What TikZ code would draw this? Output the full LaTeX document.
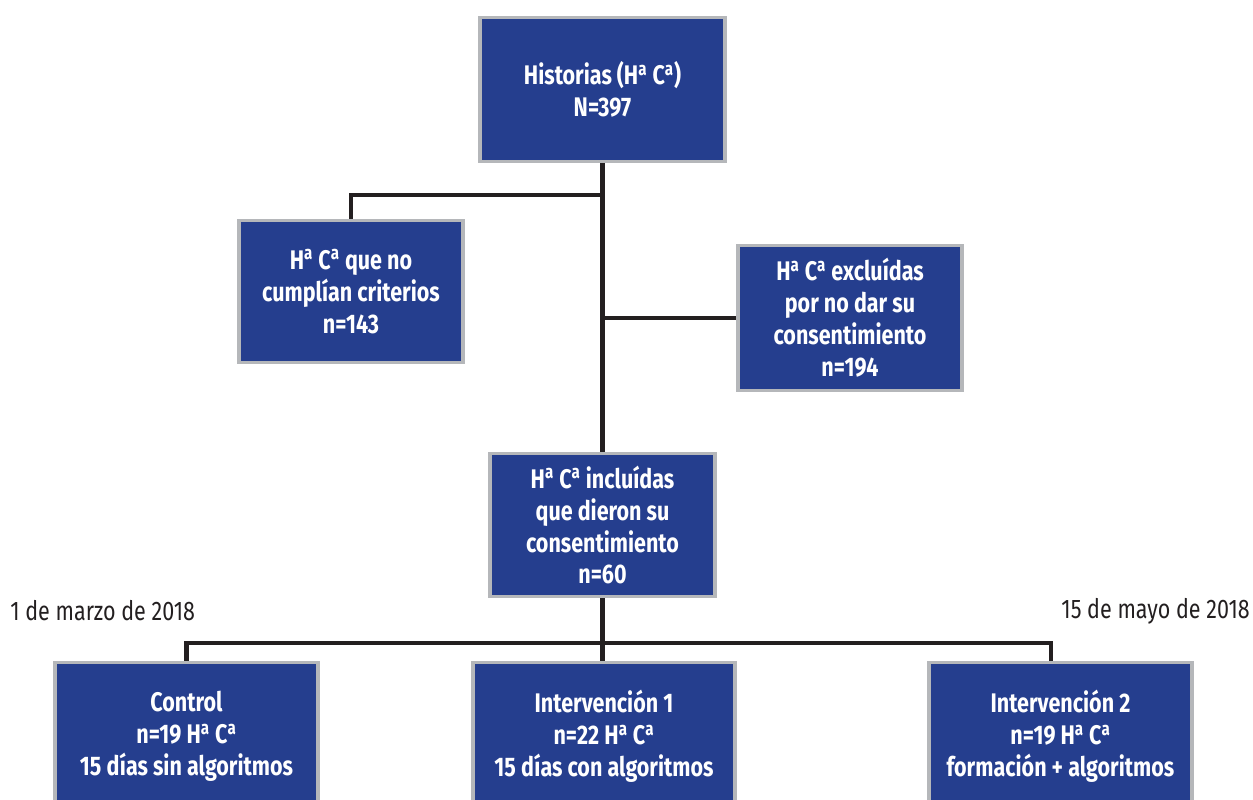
\documentclass[tikz,border=0pt]{standalone}
\usepackage{fontspec}
\setmainfont{Fira Sans}[FakeStretch=0.8]
\definecolor{boxblue}{RGB}{37,62,142}
\definecolor{boxedge}{RGB}{181,183,186}
\definecolor{linedark}{RGB}{35,31,32}
\newcommand{\HaCa}{H\textsuperscript{a} C\textsuperscript{a}}

\begin{document}
\begin{tikzpicture}[
  box/.style={draw=boxedge, line width=2pt, fill=boxblue, text=white,
    font=\bfseries\fontsize{15.3}{18.2}\selectfont, align=center, inner sep=0pt},
  link/.style={draw=linedark, line width=2.3pt},
  datelabel/.style={font=\fontsize{15.3}{18}\selectfont, text=linedark, inner sep=0pt}
]
\useasboundingbox (0,0) rectangle (25.06,-15.98);

\node[box, minimum width=4.9cm, minimum height=2.88cm] (hist) at (12.05,-1.79) {Historias (\HaCa)\\N=397};
\node[box, minimum width=4.48cm, minimum height=2.84cm] (nocrit) at (7.02,-5.83) {\HaCa{} que no\\cumplían criterios\\n=143};
\node[box, minimum width=4.48cm, minimum height=2.9cm] (excl) at (17.0,-6.36) {\HaCa{} excluídas\\por no dar su\\consentimiento\\n=194};
\node[box, minimum width=4.5cm, minimum height=2.86cm] (incl) at (12.05,-10.5) {\HaCa{} incluídas\\que dieron su\\consentimiento\\n=60};

\node[box, minimum width=5.26cm, minimum height=2.94cm] (ctrl) at (3.73,-14.72) {Control\\n=19 \HaCa\\15 días sin algoritmos};
\node[box, minimum width=5.24cm, minimum height=2.94cm] (int1) at (12.08,-14.72) {Intervención 1\\n=22 \HaCa\\15 días con algoritmos};
\node[box, minimum width=5.26cm, minimum height=2.94cm] (int2) at (21.21,-14.72) {Intervención 2\\n=19 \HaCa\\formación + algoritmos};

\node[datelabel, anchor=west] (start) at (0.2,-12.22) {1 de marzo de 2018};
\node[datelabel, anchor=east] (end) at (25.0,-12.22) {15 de mayo de 2018};

% tree lines
\coordinate (split) at (12.04,-3.9);
\coordinate (fork) at (12.04,-12.86);
\draw[link] (hist.south) -- (incl.north);
\draw[link] (split) -| (nocrit.north);
\draw[link] (hist.south |- excl.west) -- (excl.west);
\draw[link] (incl.south) -- (incl.south |- int1.north);
\draw[link] (ctrl.north) |- (fork) -| ([xshift=-0.19cm]int2.north);
\end{tikzpicture}
\end{document}
